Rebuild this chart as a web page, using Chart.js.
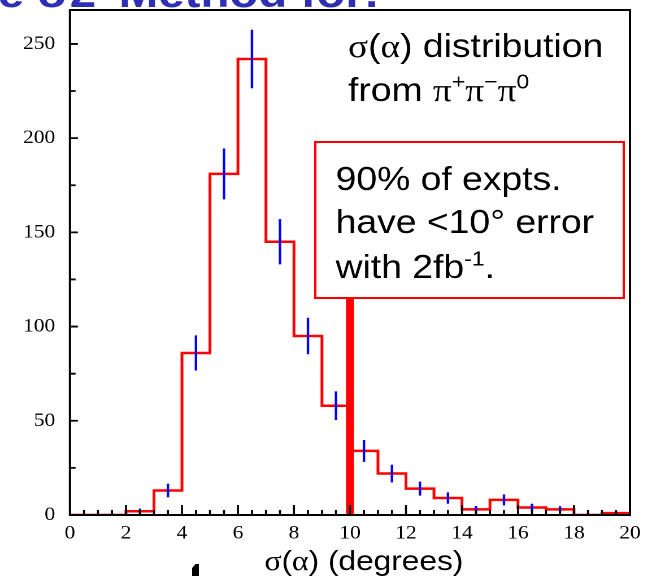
<!DOCTYPE html>
<html>
<head>
<meta charset="utf-8">
<script src="https://cdn.jsdelivr.net/npm/chart.js@4.4.1/dist/chart.umd.min.js"></script>
<style>
  html, body { margin: 0; padding: 0; background: #fff; overflow: hidden; }
  /* the plot is drawn on a narrower canvas and widened to 652px */
  #wrap { width: 577px; height: 576px; transform: scaleX(1.13); transform-origin: 0 0; }
</style>
</head>
<body>
<div id="wrap"><canvas id="chartCanvas" width="577" height="576"></canvas></div>
<script>
// sigma(alpha) histogram, 1 degree bins from 0 to 20
const binLow = [0, 1, 2, 3, 4, 5, 6, 7, 8, 9, 10, 11, 12, 13, 14, 15, 16, 17, 18, 19];
const binHigh = 20;
const counts = [0, 0, 2, 13, 86, 181, 242, 145, 95, 58, 34, 22, 14, 9, 3, 8, 4, 3, 0, 1];
const errors = [0, 1, 1.4, 3.6, 9.3, 13.5, 15.5, 12, 9.7, 7.6, 5.8, 4.7, 3.7, 3, 1.8, 2.9, 2, 1.7, 1, 1.2];

// 90% cut and how far up its marker reaches
const cutValue = 10;
const cutTop = 115;

const xTicks = [0, 2, 4, 6, 8, 10, 12, 14, 16, 18, 20];
const yTicks = [0, 50, 100, 150, 200, 250];

const SANS = '"Liberation Sans", Arial, sans-serif';
const SERIF = '"Liberation Serif", "Times New Roman", serif';

// draw a line of text made of runs (normal / greek serif / superscript)
function drawRuns(ctx, x, y, size, runs) {
  for (const r of runs) {
    const s = r.sup ? size * 0.62 : size;
    ctx.font = (r.bold ? 'bold ' : '') + s + 'px ' + (r.serif ? SERIF : SANS);
    ctx.fillText(r.t, x, r.sup ? y - size * 0.38 : y);
    x += ctx.measureText(r.t).width;
  }
}

// keep the plot area fixed, no extra room for end labels
function noPad(s) {
  s.paddingTop = 0;
  s.paddingBottom = 0;
  s.paddingLeft = 0;
  s.paddingRight = 0;
}

const histPoints = binLow.map((x, i) => ({ x: x, y: counts[i] }));
histPoints.push({ x: binHigh, y: counts[counts.length - 1] });

const framePlugin = {
  id: 'frame',
  afterDatasetsDraw(chart) {
    const ctx = chart.ctx;
    const xs = chart.scales.x;
    const ys = chart.scales.y;
    const a = chart.chartArea;

    // error bars
    ctx.save();
    ctx.beginPath();
    ctx.rect(a.left, a.top, a.right - a.left, a.bottom - a.top);
    ctx.clip();
    ctx.strokeStyle = '#0000ff';
    ctx.lineWidth = 2.2;
    binLow.forEach((lo, i) => {
      if (!errors[i]) return;
      const px = xs.getPixelForValue(lo + 0.5);
      ctx.beginPath();
      ctx.moveTo(px, ys.getPixelForValue(counts[i] - errors[i]));
      ctx.lineTo(px, ys.getPixelForValue(counts[i] + errors[i]));
      ctx.stroke();
    });
    ctx.restore();

    // frame and inward ticks
    ctx.save();
    ctx.strokeStyle = '#000';
    ctx.lineWidth = 2;
    ctx.strokeRect(a.left, a.top, a.right - a.left, a.bottom - a.top);
    ctx.lineWidth = 1.8;
    ctx.beginPath();
    for (let v = 0; v <= 20; v += 0.5) {
      const px = xs.getPixelForValue(v);
      const len = xTicks.includes(v) ? 10 : 5;
      ctx.moveTo(px, a.bottom);
      ctx.lineTo(px, a.bottom - len);
    }
    for (let v = 0; v <= 250; v += 25) {
      const py = ys.getPixelForValue(v);
      const len = yTicks.includes(v) ? 7 : 5;
      ctx.moveTo(a.left, py);
      ctx.lineTo(a.left + len, py);
    }
    ctx.stroke();
    ctx.restore();

    // text in the upper right
    ctx.save();
    ctx.fillStyle = '#000';
    ctx.textBaseline = 'alphabetic';
    ctx.textAlign = 'left';
    drawRuns(ctx, 308, 57, 33, [
      { t: 'σ', serif: true }, { t: '(' }, { t: 'α', serif: true }, { t: ') distribution' }
    ]);
    drawRuns(ctx, 308, 101, 33, [
      { t: 'from ' }, { t: 'π', serif: true }, { t: '+', sup: true },
      { t: 'π', serif: true }, { t: '−', sup: true },
      { t: 'π', serif: true }, { t: '0', sup: true }
    ]);

    // boxed note
    ctx.fillStyle = '#fff';
    ctx.fillRect(279, 142, 273, 156);
    ctx.strokeStyle = '#ff0000';
    ctx.lineWidth = 2;
    ctx.strokeRect(279, 142, 273, 156);
    ctx.fillStyle = '#000';
    drawRuns(ctx, 297, 190, 33, [{ t: '90% of expts.' }]);
    drawRuns(ctx, 297, 233, 33, [{ t: 'have <10° error' }]);
    drawRuns(ctx, 297, 278, 33, [{ t: 'with 2fb' }, { t: '-1', sup: true }, { t: '.' }]);

    // axis title
    drawRuns(ctx, 234, 570, 28, [
      { t: 'σ', serif: true }, { t: '(' }, { t: 'α', serif: true }, { t: ') (degrees)' }
    ]);

    // heading running off the top edge
    ctx.fillStyle = '#2f2fb4';
    drawRuns(ctx, -2, 7, 42, [{ t: 'e', bold: true }]);
    drawRuns(ctx, 33, 7, 42, [{ t: 'σ2', bold: true }]);
    drawRuns(ctx, 105, 7, 42, [{ t: 'Method for:', bold: true }]);

    // small dark mark under the axis
    ctx.fillStyle = '#000';
    ctx.beginPath();
    ctx.moveTo(170, 576);
    ctx.lineTo(170, 568);
    ctx.lineTo(173, 564);
    ctx.lineTo(176, 564);
    ctx.lineTo(176, 576);
    ctx.closePath();
    ctx.fill();
    ctx.restore();
  }
};

new Chart(document.getElementById('chartCanvas'), {
  type: 'line',
  data: {
    datasets: [
      {
        data: histPoints,
        stepped: true,
        borderColor: '#ff0000',
        borderWidth: 2.5,
        pointRadius: 0,
        fill: false
      },
      {
        data: [{ x: cutValue, y: 0 }, { x: cutValue, y: cutTop }],
        borderColor: '#ff0000',
        borderWidth: 7,
        pointRadius: 0,
        fill: false
      }
    ]
  },
  options: {
    responsive: false,
    devicePixelRatio: 2,
    animation: false,
    layout: { padding: { top: 10, right: 19.5, left: 0, bottom: 0 } },
    plugins: { legend: { display: false }, tooltip: { enabled: false } },
    scales: {
      x: {
        type: 'linear',
        min: 0,
        max: 20,
        grid: { display: false, drawTicks: false },
        border: { display: false },
        afterBuildTicks: (s) => { s.ticks = xTicks.map(v => ({ value: v })); },
        afterFit: (s) => { s.height = 61; noPad(s); },
        ticks: {
          stepSize: 2,
          autoSkip: false,
          maxRotation: 0,
          padding: 7,
          color: '#000',
          font: { family: SERIF, size: 19 }
        }
      },
      y: {
        type: 'linear',
        min: 0,
        max: 268,
        grid: { display: false, drawTicks: false },
        border: { display: false },
        afterBuildTicks: (s) => { s.ticks = yTicks.map(v => ({ value: v })); },
        afterFit: (s) => { s.width = 61.9; noPad(s); },
        ticks: {
          stepSize: 50,
          padding: 13,
          color: '#000',
          font: { family: SERIF, size: 19 }
        }
      }
    }
  },
  plugins: [framePlugin]
});
</script>
</body>
</html>
